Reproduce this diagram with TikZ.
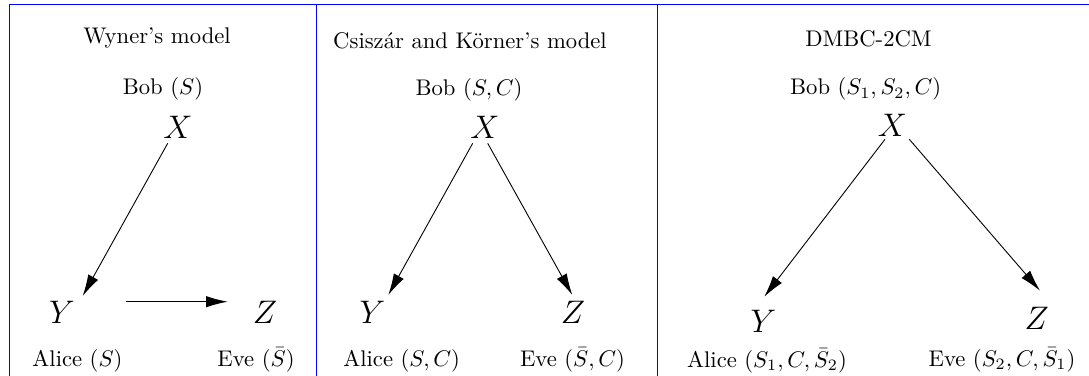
\documentclass[tikz,border=0pt]{standalone}
\usetikzlibrary{arrows.meta}
\begin{document}
\begin{tikzpicture}[x=0.4416pt,y=-0.4416pt,
  lbl/.style={inner sep=0pt,font=\normalsize},
  var/.style={inner sep=0pt,font=\Large},
  arr/.style={-{Latex[length=9.5pt,width=5pt]},line width=0.4pt},
  frame/.style={blue,line width=0.6pt}]
\useasboundingbox (0,0) rectangle (1089,376);
% frame
\coordinate (tl) at (9.5,4.5);
\coordinate (tr) at (1089,4.5);
\coordinate (bl) at (9.5,376);
\coordinate (v1t) at (316.5,4.5);
\coordinate (v1b) at (316.5,376);
\coordinate (v2t) at (657.5,4.5);
\coordinate (v2b) at (657.5,376);
\draw[frame] (bl) -- (tl) -- (tr);
\draw[frame] (v1t) -- (v1b);
\draw[frame] (v2t) -- (v2b);
% panel 1
\node[lbl] (t1) at (157,38) {Wyner's model};
\node[lbl] (b1) at (163,89) {Bob $(S)$};
\node[var] (x1) at (178,127) {$X$};
\node[var] (y1) at (62,312) {$Y$};
\node[var] (z1) at (265,312) {$Z$};
\node[lbl] (a1) at (77.5,361) {Alice $(S)$};
\node[lbl] (e1) at (256,360) {Eve $(\bar{S})$};
\coordinate (x1s) at (167.7,143.3);
\coordinate (y1e) at (82.7,296);
\coordinate (h1s) at (125.7,301.7);
\coordinate (h1e) at (227.7,301.7);
\draw[arr] (x1s) -- (y1e);
\draw[arr] (h1s) -- (h1e);
% panel 2
\node[lbl] (t2) at (470,41) {Csisz\'ar and K\"orner's model};
\node[lbl] (b2) at (469,90) {Bob $(S,C)$};
\node[var] (x2) at (485,127) {$X$};
\node[var] (y2) at (372.5,312) {$Y$};
\node[var] (z2) at (573,312) {$Z$};
\node[lbl] (a2) at (401.7,361) {Alice $(S,C)$};
\node[lbl] (e2) at (572.5,360) {Eve $(\bar{S},C)$};
\coordinate (x2l) at (472.7,143.3);
\coordinate (y2e) at (388.3,295);
\coordinate (x2r) at (487.7,143.3);
\coordinate (z2e) at (572.3,295);
\draw[arr] (x2l) -- (y2e);
\draw[arr] (x2r) -- (z2e);
% panel 3
\node[lbl] (t3) at (868.5,39) {DMBC-2CM};
\node[lbl] (b3) at (865.7,89) {Bob $(S_1,S_2,C)$};
\node[var] (x3) at (892.5,125) {$X$};
\node[var] (y3) at (763.3,321.7) {$Y$};
\node[var] (z3) at (1036.7,318.3) {$Z$};
\node[lbl] (a3) at (767,361) {Alice $(S_1,C,\bar{S}_2)$};
\node[lbl] (e3) at (1002,360) {Eve $(S_2,C,\bar{S}_1)$};
\coordinate (x3l) at (885,139.3);
\coordinate (y3e) at (764.3,296.7);
\coordinate (x3r) at (909.3,139.3);
\coordinate (z3e) at (1040,290.7);
\draw[arr] (x3l) -- (y3e);
\draw[arr] (x3r) -- (z3e);
\end{tikzpicture}
\end{document}
